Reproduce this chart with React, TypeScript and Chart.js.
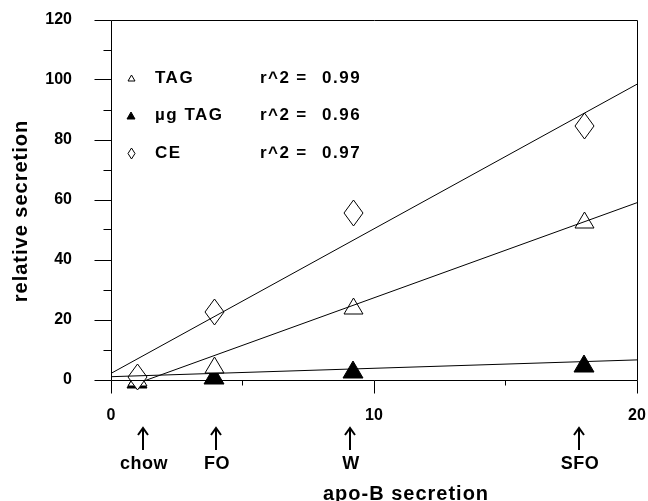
import React, { useEffect, useRef } from 'react';
import { Chart, registerables } from 'chart.js';

Chart.register(...registerables);

const FONT = '"Liberation Sans", Arial, Helvetica, sans-serif';

// measured data points (x = apo-B secretion, y = relative secretion)
const pointX = [1.0, 3.93, 9.2, 18.0];
const tagValues = [0.6, 5.0, 24.8, 53.3];
const ugTagValues = [0.2, 1.7, 3.6, 5.6];
const ceValues = [1.1, 22.8, 55.7, 84.7];

// regression lines, end points at x = 0 and x = 20
const fitX = [0, 20];
const tagFit = [-4.3, 59.1];
const ugTagFit = [1.1, 6.7];
const ceFit = [2.2, 98.6];

// diet annotations under the x axis
const dietLabels = ['chow', 'FO', 'W', 'SFO'];
const dietArrowX = [1.2, 4.0, 9.1, 17.8];

// legend
const seriesNames = ['TAG', 'µg TAG', 'CE'];
const seriesR2 = ['0.99', '0.96', '0.97'];

const xMin = 0, xMax = 20, xStep = 5, xLabelEvery = 10;
const yMin = 0, yMax = 120, yStep = 10, yLabelEvery = 20;
const xTitle = 'apo-B secretion';
const yTitle = 'relative secretion';

function triangleMarker(w: number, h: number, filled: boolean) {
  const c = document.createElement('canvas');
  c.width = w + 2;
  c.height = h + 2;
  const g = c.getContext('2d')!;
  g.beginPath();
  g.moveTo(c.width / 2, 1);
  g.lineTo(w + 1, h + 1);
  g.lineTo(1, h + 1);
  g.closePath();
  g.fillStyle = filled ? '#000' : '#fff';
  g.fill();
  g.lineWidth = 1;
  g.strokeStyle = '#000';
  g.stroke();
  return c;
}

function diamondMarker(w: number, h: number) {
  const c = document.createElement('canvas');
  c.width = w + 2;
  c.height = h + 2;
  const g = c.getContext('2d')!;
  g.beginPath();
  g.moveTo(c.width / 2, 1);
  g.lineTo(w + 1, c.height / 2);
  g.lineTo(c.width / 2, h + 1);
  g.lineTo(1, c.height / 2);
  g.closePath();
  g.fillStyle = '#fff';
  g.fill();
  g.lineWidth = 1;
  g.strokeStyle = '#000';
  g.stroke();
  return c;
}

const pts = (xs: number[], ys: number[]) => xs.map((x, i) => ({ x, y: ys[i] }));

export default function App() {
  const ref = useRef<HTMLCanvasElement | null>(null);

  useEffect(() => {
    if (!ref.current) return;
    const hollowTri = triangleMarker(19, 16, false);
    const filledTri = triangleMarker(20, 17, true);
    const diamond = diamondMarker(19, 26);
    const legendMarkers = [triangleMarker(7, 6, false), triangleMarker(8, 7, true), diamondMarker(7, 11)];

    const markers = {
      id: 'markers',
      beforeDatasetsDraw(chart: any) {
        const { ctx } = chart;
        chart.data.datasets.forEach((ds: any, i: number) => {
          if (!ds.marker) return;
          const m = ds.marker as HTMLCanvasElement;
          for (const el of chart.getDatasetMeta(i).data) {
            const x = Math.round(el.x);
            const y = Math.round(el.y);
            ctx.drawImage(m, x - Math.floor(m.width / 2), y - Math.floor(m.height / 2));
          }
        });
      },
    };

    const decor = {
      id: 'decor',
      afterDraw(chart: any) {
        const { ctx, chartArea: a, scales } = chart;
        const xs = scales.x;
        const ys = scales.y;
        const L = Math.floor(a.left) + 0.5;
        const R = Math.floor(a.right) + 0.5;
        const T = Math.floor(a.top) + 0.5;
        const B = Math.floor(a.bottom) + 0.5;
        ctx.save();
        ctx.strokeStyle = '#000';
        ctx.lineWidth = 1;
        ctx.beginPath();
        ctx.rect(L, T, R - L, B - T);
        ctx.stroke();
        // y ticks (outward)
        ctx.beginPath();
        for (const t of ys.ticks) {
          const y = Math.floor(ys.getPixelForValue(t.value)) + 0.5;
          const len = t.value % yLabelEvery === 0 ? 17 : 8;
          ctx.moveTo(L - len, y);
          ctx.lineTo(L, y);
        }
        // x ticks (outward)
        for (const t of xs.ticks) {
          const x = Math.floor(xs.getPixelForValue(t.value)) + 0.5;
          const len = t.value % xLabelEvery === 0 ? 13 : 5;
          ctx.moveTo(x, B);
          ctx.lineTo(x, B + len);
        }
        ctx.stroke();

        ctx.fillStyle = '#000';
        (ctx as any).letterSpacing = '1.5px';
        // legend
        ctx.font = `bold 17px ${FONT}`;
        ctx.textBaseline = 'middle';
        const rows = [78, 115, 153];
        seriesNames.forEach((name, i) => {
          const m = legendMarkers[i];
          const y = rows[i];
          ctx.drawImage(m, Math.round(a.left + 20 - m.width / 2), Math.round(y - m.height / 2));
          ctx.textAlign = 'left';
          ctx.fillText(name, a.left + 44, y);
          ctx.fillText('r^2', a.left + 149, y);
          ctx.textAlign = 'center';
          ctx.fillText('=', a.left + 191, y);
          ctx.textAlign = 'left';
          ctx.fillText(seriesR2[i], a.left + 211, y);
        });

        // diet arrows + labels
        (ctx as any).letterSpacing = '0.5px';
        ctx.font = `bold 18px ${FONT}`;
        ctx.textAlign = 'center';
        ctx.textBaseline = 'alphabetic';
        ctx.lineWidth = 2;
        dietLabels.forEach((lab, i) => {
          const x = Math.round(xs.getPixelForValue(dietArrowX[i]));
          const top = a.bottom + 47;
          ctx.beginPath();
          ctx.moveTo(x, top + 1);
          ctx.lineTo(x, top + 23);
          ctx.moveTo(x - 5, top + 8);
          ctx.lineTo(x, top + 1);
          ctx.lineTo(x + 5, top + 8);
          ctx.stroke();
          ctx.fillText(lab, x + 1, a.bottom + 89);
        });

        // axis titles
        (ctx as any).letterSpacing = '1px';
        ctx.font = `bold 20px ${FONT}`;
        ctx.textAlign = 'center';
        ctx.textBaseline = 'alphabetic';
        ctx.fillText(xTitle, 406, chart.height - 1);
        ctx.save();
        ctx.translate(27, 211);
        ctx.rotate(-Math.PI / 2);
        ctx.fillText(yTitle, 0, 0);
        ctx.restore();
        (ctx as any).letterSpacing = '0px';
        ctx.restore();
      },
    };

    const lineDs = (data: any[]) => ({
      data,
      showLine: true,
      borderColor: '#000',
      borderWidth: 1,
      pointRadius: 0,
      tension: 0,
      fill: false,
      order: 0,
    });
    const pointDs = (data: any[], marker: HTMLCanvasElement, order: number) => ({
      data,
      marker,
      showLine: false,
      pointStyle: marker,
      pointRadius: 0,
      clip: false,
      order,
    });

    const zeroPadding = (s: any) => {
      s.paddingTop = 0;
      s.paddingBottom = 0;
      s.paddingLeft = 0;
      s.paddingRight = 0;
    };

    const chart = new Chart(ref.current, {
      type: 'scatter',
      data: {
        datasets: [
          lineDs(pts(fitX, ceFit)) as any,
          lineDs(pts(fitX, tagFit)) as any,
          lineDs(pts(fitX, ugTagFit)) as any,
          pointDs(pts(pointX, ugTagValues), filledTri, 3) as any,
          pointDs(pts(pointX, tagValues), hollowTri, 2) as any,
          pointDs(pts(pointX, ceValues), diamond, 1) as any,
        ],
      },
      options: {
        responsive: false,
        animation: false,
        events: [],
        devicePixelRatio: 1,
        layout: { padding: { top: 20, right: 11, left: 0, bottom: 0 } },
        plugins: { legend: { display: false }, tooltip: { enabled: false } },
        scales: {
          x: {
            type: 'linear',
            min: xMin,
            max: xMax,
            border: { display: false },
            grid: { display: false, drawTicks: false },
            ticks: {
              stepSize: xStep,
              autoSkip: false,
              maxRotation: 0,
              padding: 26,
              color: '#000',
              font: { family: FONT, size: 16, weight: 'bold' },
              callback: (v: any) => (Number(v) % xLabelEvery === 0 ? String(v) : ''),
            },
            afterFit: (s: any) => {
              s.height = 121;
              zeroPadding(s);
            },
          },
          y: {
            type: 'linear',
            min: yMin,
            max: yMax,
            border: { display: false },
            grid: { display: false, drawTicks: false },
            ticks: {
              stepSize: yStep,
              autoSkip: false,
              padding: 39,
              color: '#000',
              font: { family: FONT, size: 16, weight: 'bold' },
              callback: (v: any) => (Number(v) % yLabelEvery === 0 ? String(v) : ''),
            },
            afterFit: (s: any) => {
              s.width = 111;
              zeroPadding(s);
            },
          },
        },
      } as any,
      plugins: [markers, decor],
    });
    return () => chart.destroy();
  }, []);

  return (
    <div style={{ position: 'absolute', left: 0, top: 0, width: 648, height: 501, background: '#fff' }}>
      <canvas ref={ref} width={648} height={501} style={{ width: 648, height: 501, display: 'block' }} />
    </div>
  );
}
